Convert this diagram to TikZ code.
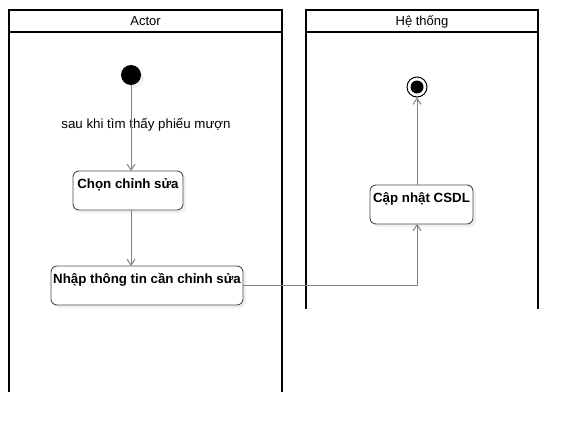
\documentclass[tikz,border=0pt]{standalone}
\usepackage{fontspec}
\setmainfont{Liberation Sans}
\usetikzlibrary{arrows.meta, shadows}

\begin{document}
\begin{tikzpicture}
    [
        x=1pt, y=-1pt,
        lane_head/.style={draw=black, line width=1.3pt, outer sep=0pt, inner sep=0pt, minimum height=22pt, text height=10pt, text depth=0pt, font=\fontsize{13}{15}\selectfont},
        lane_line/.style={draw=black, line width=1.3pt},
        act_node/.style={draw=black!70, fill=white, rounded corners=6pt, line width=0.9pt, outer sep=0pt, inner sep=0pt, text height=17pt, text depth=22pt, font=\fontsize{13.3}{16}\selectfont\bfseries, drop shadow={shadow xshift=3pt, shadow yshift=-3pt, fill=black!6, opacity=1}},
        start_node/.style={circle, fill=black, minimum size=20pt, inner sep=0pt, drop shadow={shadow xshift=3pt, shadow yshift=-3pt, fill=black!6, opacity=1}},
        end_node/.style={circle, draw=black, fill=white, line width=1pt, minimum size=20pt, inner sep=0pt, path picture={\fill[black] (path picture bounding box.center) circle (6.5pt);}},
        flow/.style={-{Straight Barb[length=6pt, width=8pt]}, draw=black!50, line width=1pt},
    ]
        \useasboundingbox (0,0) rectangle (577,433) ;
        \node[lane_head, minimum width=273pt, anchor=north west] (actor) at (9,10) {Actor} ;
        \node[lane_head, minimum width=232pt, anchor=north west] (system) at (306,10) {Hệ thống} ;
        \coordinate (actor_end) at (9,392) ;
        \coordinate (system_end) at (306,309) ;
        \draw[lane_line] (actor.south west) -- (actor.south west |- actor_end) ;
        \draw[lane_line] (actor.south east) -- (actor.south east |- actor_end) ;
        \draw[lane_line] (system.south west) -- (system.south west |- system_end) ;
        \draw[lane_line] (system.south east) -- (system.south east |- system_end) ;
        \node[start_node] (start) at (131,75) {} ;
        \node[font=\fontsize{13.3}{16}\selectfont] (cond) at (146,125) {sau khi tìm thấy phiếu mượn} ;
        \node[act_node, minimum width=110pt, anchor=north west] (choose) at (73,171) {Chọn chỉnh sửa} ;
        \node[act_node, minimum width=192pt, anchor=north west] (enter) at (51,266) {Nhập thông tin cần chỉnh sửa} ;
        \node[act_node, minimum width=103pt, anchor=north west] (update) at (370,185) {Cập nhật CSDL} ;
        \node[end_node] (finish) at (417,87) {} ;
        \draw[flow] (start) -- (start |- choose.north) ;
        \draw[flow] (choose.south -| start) -- (start |- enter.north) ;
        \draw[flow] (enter.east) -| (update.south -| finish) ;
        \draw[flow] (update.north -| finish) -- (finish) ;
    \end{tikzpicture}
\end{document}
